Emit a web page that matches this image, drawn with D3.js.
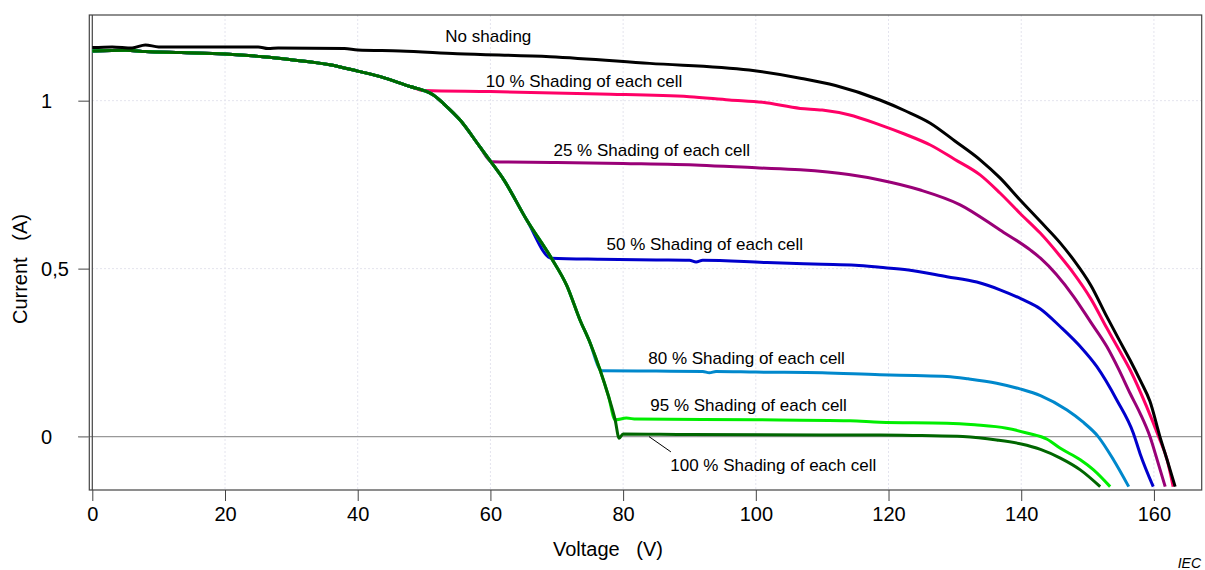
<!DOCTYPE html>
<html>
<head>
<meta charset="utf-8">
<script src="https://cdn.jsdelivr.net/npm/d3@7"></script>
<style>
  body { margin: 0; background: #fff; }
  text { font-family: "Liberation Sans", Arial, sans-serif; white-space: pre; }
</style>
</head>
<body>
<script>
// tick values
var xTicks = [0, 20, 40, 60, 80, 100, 120, 140, 160];
var yTicks = [0, 0.5, 1];
var yTickLabels = ["0", "0,5", "1"];

// common part of the shaded curves (voltage V, current A)
var knee = [[0,1.148],[5,1.15],[8,1.146],[13.4,1.143],[20,1.139],[25.7,1.131],[30,1.122],[35.8,1.107],
  [40,1.088],[44,1.068],[47.9,1.042],[50,1.03],[51.4,1.017],[53,0.99],[55.4,0.943],[58.4,0.863],
  [60,0.82],[62,0.765],[65.5,0.644],[69.2,0.531],[71.5,0.45],[73.5,0.347],[75,0.28],[76.5,0.2],
  [77.8,0.12],[78.8,0.05],[79.4,-0.005]];

var noShading = [[0,1.158],[3,1.16],[6,1.157],[8,1.166],[10,1.16],[25,1.16],[26.5,1.155],[28,1.157],
  [38,1.155],[40,1.151],[46.4,1.148],[55,1.14],[69,1.131],[84,1.111],[99,1.091],[106.7,1.067],
  [112,1.045],[118.7,1.002],[122.5,0.97],[126.3,0.933],[130,0.88],[133.8,0.824],[136.8,0.77],
  [139.8,0.705],[142.9,0.64],[145.9,0.576],[147.9,0.526],[150.5,0.45],[152.9,0.357],[154.7,0.29],
  [156.4,0.228],[158,0.165],[159.4,0.105],[160.9,0],[162,-0.07],[163.2,-0.149]];

var shade10 = [[50,1.03],[60,1.027],[76.5,1.02],[90,1.012],[96,1.002],[101,0.995],[106.7,0.977],
  [110,0.972],[114,0.958],[118.7,0.928],[122.5,0.9],[126.3,0.868],[130,0.825],[133.8,0.779],
  [136.8,0.725],[139.8,0.665],[142.9,0.605],[145.9,0.536],[147.9,0.486],[150.5,0.41],[152.9,0.323],
  [154.7,0.26],[156.4,0.199],[158.9,0.089],[160.7,0],[162,-0.07],[162.9,-0.149]];

var shade25 = [[60.2,0.818],[70,0.816],[80,0.813],[91.6,0.808],[100,0.8],[106.7,0.794],[114,0.78],
  [118.7,0.764],[124.8,0.734],[130.8,0.69],[136.8,0.615],[141.4,0.555],[142.9,0.531],[147.9,0.417],
  [150.5,0.34],[152.9,0.268],[154.7,0.2],[156.4,0.129],[157.9,0.07],[159.4,0],[160.5,-0.07],
  [161.7,-0.149]];

var shade50 = [[69.2,0.531],[76.5,0.528],[85,0.526],[90,0.525],[91,0.52],[92,0.525],[101.7,0.518],
  [110,0.513],[115,0.51],[118.7,0.504],[123,0.496],[128.8,0.476],[133.3,0.46],[136.8,0.437],
  [140,0.41],[142.9,0.38],[145.9,0.327],[148.9,0.268],[151.4,0.208],[154.4,0.109],[156.9,0.01],
  [157.9,-0.05],[159.9,-0.149]];

var shade80 = [[76.8,0.196],[85,0.195],[92,0.194],[93,0.19],[94,0.194],[100,0.192],[110,0.19],
  [118.7,0.184],[124,0.182],[128.8,0.179],[132,0.172],[136.3,0.159],[139.8,0.142],[142.9,0.122],
  [146.9,0.079],[149.2,0.045],[151.6,0],[153.9,-0.069],[156.2,-0.149]];

var shade95 = [[78.8,0.05],[80.5,0.055],[82,0.052],[100,0.05],[114.2,0.047],[118.7,0.043],
  [128.8,0.04],[133,0.035],[137.8,0.025],[141,0.01],[143.9,-0.008],[145.9,-0.035],[148.9,-0.069],
  [150.9,-0.099],[153.4,-0.149]];

var shade100 = [[79.4,-0.005],[80,0.008],[90,0.006],[110,0.005],[118.7,0.005],[125,0.003],
  [131.2,0],[136.3,-0.01],[140,-0.022],[142.9,-0.038],[145.9,-0.064],[148.9,-0.099],[151.9,-0.149]];

var seriesColors = ["#ff0066", "#990077", "#0000cc", "#0088cc", "#00ee00", "#006600", "#000000"];
var plateaus = [shade10, shade25, shade50, shade80, shade95, shade100];

// curve labels [text, V, I]
var labels = [
  ["No shading", 53.2, 1.174],
  ["10 % Shading of each cell", 59.3, 1.042],
  ["25 % Shading of each cell", 69.5, 0.834],
  ["50 % Shading of each cell", 77.5, 0.556],
  ["80 % Shading of each cell", 83.8, 0.2155],
  ["95 % Shading of each cell", 84.1, 0.0774],
  ["100 % Shading of each cell", 87.1, -0.102]
];
var leader = [[83.9, 0], [87.2, -0.0455]];

var w = 1205, h = 570;
var svg = d3.select("body").append("svg").attr("width", w).attr("height", h);

var x = d3.scaleLinear().domain([0, 167.2]).range([92.3, 1201.7]);
var y = d3.scaleLinear().domain([-0.159, 1.255]).range([490, 15]);

// light dotted grid
svg.selectAll(".gx").data(xTicks.slice(1)).enter().append("line")
  .attr("x1", function(d) { return x(d); }).attr("x2", function(d) { return x(d); })
  .attr("y1", 15).attr("y2", 490)
  .attr("stroke", "#e4e4ee").attr("stroke-dasharray", "2,2");
svg.selectAll(".gy").data([0.5, 1]).enter().append("line")
  .attr("x1", 92).attr("x2", 1201.7)
  .attr("y1", function(d) { return y(d); }).attr("y2", function(d) { return y(d); })
  .attr("stroke", "#e4e4ee").attr("stroke-dasharray", "2,2");

// zero line
svg.append("line").attr("x1", 78).attr("x2", 1201.7)
  .attr("y1", y(0)).attr("y2", y(0))
  .attr("stroke", "#999").attr("stroke-width", 1.3);

// frame (double line on the left)
svg.append("rect").attr("x", 89.3).attr("y", 15).attr("width", 1201.7 - 89.3).attr("height", 475)
  .attr("fill", "none").attr("stroke", "#444").attr("stroke-width", 1.2);
svg.append("line").attr("x1", 92.3).attr("x2", 92.3).attr("y1", 15).attr("y2", 490)
  .attr("stroke", "#444").attr("stroke-width", 1.2);

// x axis
var xAxis = svg.append("g").attr("transform", "translate(0,490)")
  .call(d3.axisBottom(x).tickValues(xTicks).tickSize(11).tickPadding(6));
xAxis.select(".domain").remove();
xAxis.selectAll("line").attr("stroke", "#444");
xAxis.selectAll("text").attr("font-size", 20).attr("fill", "#000")
  .style("font-family", "'Liberation Sans', Arial, sans-serif");

// y axis
var yAxis = svg.append("g").attr("transform", "translate(89.3,0)")
  .call(d3.axisLeft(y).tickValues(yTicks).tickSize(11)
    .tickFormat(function(d, i) { return yTickLabels[i]; }));
yAxis.select(".domain").remove();
yAxis.selectAll("line").attr("stroke", function(d) { return d === 0 ? "#999" : "#444"; });
yAxis.selectAll("text").attr("font-size", 20).attr("fill", "#000")
  .attr("text-anchor", "start").attr("x", 41 - 89.3).attr("dy", "0.35em")
  .style("font-family", "'Liberation Sans', Arial, sans-serif");

// curves
var line = d3.line()
  .x(function(d) { return x(d[0]); })
  .y(function(d) { return y(d[1]); })
  .curve(d3.curveMonotoneX);

var curves = plateaus.map(function(p) {
  var start = p[0][0];
  return knee.filter(function(d) { return d[0] < start; }).concat(p);
});
curves.push(noShading);

svg.selectAll(".curve").data(curves).enter().append("path")
  .attr("d", line)
  .attr("fill", "none")
  .attr("stroke", function(d, i) { return seriesColors[i]; })
  .attr("stroke-width", 3)
  .attr("stroke-linejoin", "round");

// labels
svg.selectAll(".lab").data(labels).enter().append("text")
  .attr("x", function(d) { return x(d[1]); })
  .attr("y", function(d) { return y(d[2]); })
  .attr("font-size", 17)
  .text(function(d) { return d[0]; });

svg.append("line")
  .attr("x1", x(leader[0][0])).attr("y1", y(leader[0][1]))
  .attr("x2", x(leader[1][0])).attr("y2", y(leader[1][1]))
  .attr("stroke", "#000").attr("stroke-width", 1);

// axis titles
svg.append("text").attr("x", 608).attr("y", 556).attr("text-anchor", "middle")
  .attr("font-size", 20).text("Voltage   (V)");
svg.append("text").attr("transform", "translate(27,269) rotate(-90)")
  .attr("text-anchor", "middle").attr("font-size", 20).text("Current   (A)");

svg.append("text").attr("x", 1201).attr("y", 568).attr("text-anchor", "end")
  .attr("font-size", 14).attr("font-style", "italic").text("IEC");
</script>
</body>
</html>
